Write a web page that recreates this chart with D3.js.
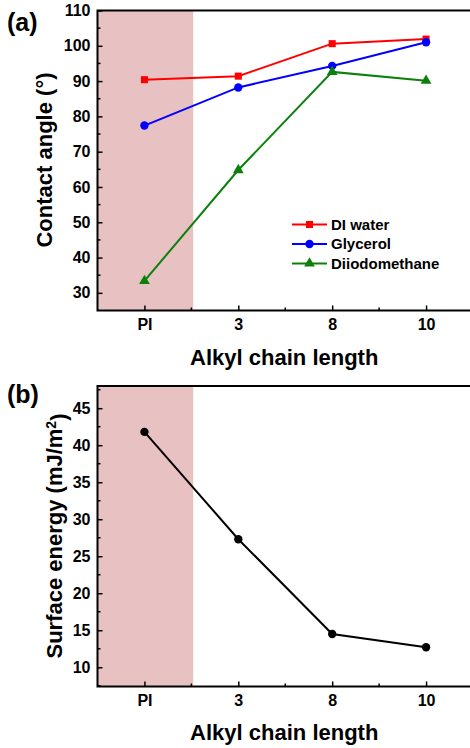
<!DOCTYPE html>
<html><head><meta charset="utf-8">
<script src="https://cdn.jsdelivr.net/npm/d3@7"></script>
<style>body{margin:0;background:#fff}svg{display:block}text{font-family:"Liberation Sans",Arial,sans-serif;font-weight:bold;fill:#000}</style>
</head><body>
<svg id="c" width="470" height="748"></svg>
<script>
const categories = ["PI", "3", "8", "10"];
const diWater = [90.4, 91.4, 100.6, 101.9];
const glycerol = [77.4, 88.2, 94.3, 101.0];
const diiodomethane = [33.4, 64.8, 92.6, 90.1];
const surfaceEnergy = [41.8, 27.3, 14.5, 12.7];
const ticksA = [30, 40, 50, 60, 70, 80, 90, 100, 110];
const ticksB = [10, 15, 20, 25, 30, 35, 40, 45];
const seriesA = [
  {name: "DI water", values: diWater, color: "#ff0000", marker: "square"},
  {name: "Glycerol", values: glycerol, color: "#0000ff", marker: "circle"},
  {name: "Diiodomethane", values: diiodomethane, color: "#0b800b", marker: "triangle"}
];

const svg = d3.select("#c");
const L = 97.5, R = 473;
const x = d3.scaleLinear().domain([-0.5, 3.5]).range([L, R]);
const shadeEnd = 0.52;

function symbolFor(m) {
  if (m === "square") return d3.symbol(d3.symbolSquare, 50);
  if (m === "triangle") return d3.symbol(d3.symbolTriangle, 50);
  return d3.symbol(d3.symbolCircle, 55);
}

function panel(cfg) {
  const g = svg.append("g");
  const y = d3.scaleLinear().domain(cfg.domain).range([cfg.bottom, cfg.top]);
  // shading
  g.append("rect").attr("x", L).attr("y", cfg.top)
    .attr("width", x(shadeEnd) - L).attr("height", cfg.bottom - cfg.top)
    .attr("fill", "#e8c2c2");
  // minor ticks
  const minorY = [];
  for (let v = cfg.ticks[0] - cfg.step / 2; v <= cfg.domain[1]; v += cfg.step) {
    if (v > cfg.domain[0] && !cfg.ticks.includes(v)) minorY.push(v);
  }
  g.selectAll(".my").data(minorY).join("line")
    .attr("x1", L).attr("x2", L + 3).attr("y1", d => y(d)).attr("y2", d => y(d))
    .attr("stroke", "#000").attr("stroke-width", 1.5);
  g.selectAll(".mx").data([0.5, 1.5, 2.5]).join("line")
    .attr("x1", d => x(d)).attr("x2", d => x(d)).attr("y1", cfg.bottom).attr("y2", cfg.bottom - 3)
    .attr("stroke", "#000").attr("stroke-width", 1.5);
  // axes
  const ya = g.append("g").attr("transform", `translate(${L},0)`)
    .call(d3.axisLeft(y).tickValues(cfg.ticks).tickSize(-5).tickPadding(7));
  ya.select(".domain").remove();
  ya.selectAll("line").attr("stroke-width", 1.5);
  ya.selectAll("text").style("font-size", "16px").attr("font-family", null);
  const xa = g.append("g").attr("transform", `translate(0,${cfg.bottom})`)
    .call(d3.axisBottom(x).tickValues([0, 1, 2, 3]).tickFormat(i => categories[i]).tickSize(-5).tickPadding(8.5));
  xa.select(".domain").remove();
  xa.selectAll("line").attr("stroke-width", 1.5);
  xa.selectAll("text").style("font-size", "16px").attr("font-family", null);
  // frame
  g.append("path").attr("d", `M${R},${cfg.top}H${L}V${cfg.bottom}H${R}`)
    .attr("fill", "none").attr("stroke", "#000").attr("stroke-width", 2);
  // series
  const line = d3.line().x((d, i) => x(i)).y(d => y(d));
  cfg.series.forEach(s => {
    g.append("path").datum(s.values).attr("d", line)
      .attr("fill", "none").attr("stroke", s.color).attr("stroke-width", 2);
    g.selectAll(null).data(s.values).join("path")
      .attr("transform", (d, i) => `translate(${x(i)},${y(d)})`)
      .attr("d", symbolFor(s.marker)).attr("fill", s.color);
  });
  // x title
  g.append("text").attr("x", (L + R) / 2 - 1).attr("y", cfg.xTitleY)
    .attr("text-anchor", "middle").style("font-size", "22px").text("Alkyl chain length");
  // panel label
  g.append("text").attr("x", 7).attr("y", cfg.labelY).style("font-size", "25px").text(cfg.label);
  return {g, y};
}

const A = panel({domain: [25, 110], top: 10.5, bottom: 310.5, ticks: ticksA, step: 10,
  series: seriesA, xTitleY: 365, label: "(a)", labelY: 31});
A.g.append("text").attr("transform", `translate(52,160) rotate(-90)`)
  .attr("text-anchor", "middle").style("font-size", "22px").text("Contact angle (°)");

// legend
seriesA.forEach((s, i) => {
  const ly = 224.5 + i * 19.5;
  A.g.append("line").attr("x1", 292).attr("x2", 327).attr("y1", ly).attr("y2", ly)
    .attr("stroke", s.color).attr("stroke-width", 2);
  A.g.append("path").attr("transform", `translate(309.5,${ly})`)
    .attr("d", symbolFor(s.marker)).attr("fill", s.color);
  A.g.append("text").attr("x", 331).attr("y", ly).attr("dy", "0.36em")
    .style("font-size", "15px").text(s.name);
});

const B = panel({domain: [7.4, 48], top: 386, bottom: 686.5, ticks: ticksB, step: 5,
  series: [{name: "Surface energy", values: surfaceEnergy, color: "#000", marker: "circle"}],
  xTitleY: 740, label: "(b)", labelY: 403});
const yt = B.g.append("text").attr("transform", `translate(62,536) rotate(-90)`)
  .attr("text-anchor", "middle").style("font-size", "22px");
yt.append("tspan").text("Surface energy (mJ/m");
yt.append("tspan").attr("dy", "-0.45em").style("font-size", "14px").text("2");
yt.append("tspan").attr("dy", "0.45em").text(")");
</script>
</body></html>
